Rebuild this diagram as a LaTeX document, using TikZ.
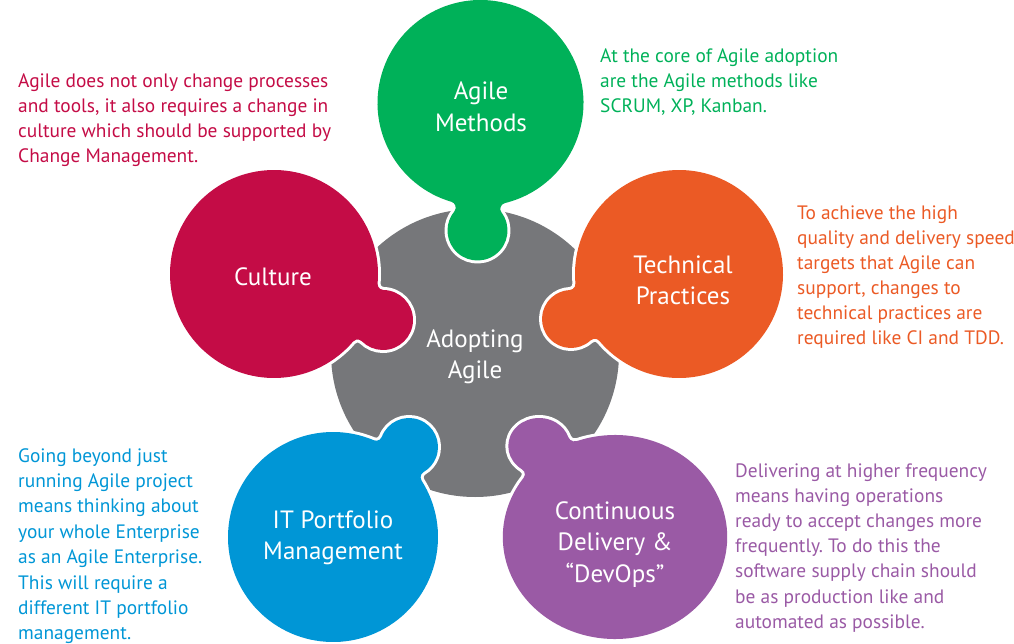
\documentclass[tikz,border=0pt]{standalone}
\usepackage{fontspec}
\setmainfont{PT Sans}
\frenchspacing

\definecolor{hubgray}{HTML}{76777A}
\definecolor{culturered}{HTML}{C40C46}
\definecolor{methodsgreen}{HTML}{00B159}
\definecolor{practorange}{HTML}{EB5A25}
\definecolor{portblue}{HTML}{0096D6}
\definecolor{devopspurple}{HTML}{9A5AA5}

% one line of a left-aligned block / of a centred block
\newcommand\txtrow[1]{\hbox{#1}}
\newcommand\ctrrow[1]{\hbox to 0pt{\hss#1\hss}}

% A puzzle piece around the local origin: disc of radius #1 with a knob of
% radius #4 centred at (#2,#3), joined by concave fillets of radius #5.
\newcommand\puzzlepiece[6]{%
  \pgfmathsetmacro\pzdx{(#2)/10}%
  \pgfmathsetmacro\pzdy{(#3)/10}%
  \pgfmathsetmacro\pzphi{atan2(\pzdy,\pzdx)}%
  \pgfmathsetmacro\pzdist{sqrt(\pzdx*\pzdx+\pzdy*\pzdy)}%
  \pgfmathsetmacro\pzbig{(#1+#5)/10}%
  \pgfmathsetmacro\pzsmall{(#4+#5)/10}%
  \pgfmathsetmacro\pzfx{(\pzbig*\pzbig-\pzsmall*\pzsmall+\pzdist*\pzdist)/(2*\pzdist)}%
  \pgfmathsetmacro\pzfy{sqrt(\pzbig*\pzbig-\pzfx*\pzfx)}%
  \pgfmathsetmacro\pzal{atan2(\pzfy,\pzfx)}%
  \pgfmathsetmacro\pzbe{atan2(\pzfy,\pzfx-\pzdist)}%
  \pgfmathsetmacro\pzangA{\pzphi+\pzal}%
  \pgfmathsetmacro\pzangB{\pzphi+360-\pzal}%
  \pgfmathsetmacro\pzangC{\pzphi-\pzal+180}%
  \pgfmathsetmacro\pzangD{\pzphi-\pzbe+180}%
  \pgfmathsetmacro\pzangE{\pzphi-\pzbe}%
  \pgfmathsetmacro\pzangF{\pzphi+\pzbe}%
  \pgfmathsetmacro\pzangG{\pzphi+\pzbe+180}%
  \pgfmathsetmacro\pzangH{\pzphi+\pzal+180}%
  \fill[piece,fill=#6] (\pzangA:#1)
    arc[start angle=\pzangA,end angle=\pzangB,radius=#1]
    arc[start angle=\pzangC,end angle=\pzangD,radius=#5]
    arc[start angle=\pzangE,end angle=\pzangF,radius=#4]
    arc[start angle=\pzangG,end angle=\pzangH,radius=#5] -- cycle;
}

\begin{document}
\begin{tikzpicture}[x=1pt,y=-1pt,
  piece/.style={preaction={draw=white,line width=6pt}},
  lbl/.style={text=white,inner sep=0,anchor=base,font=\fontsize{25}{31.5}\selectfont},
  note/.style={inner sep=0,anchor=base west,font=\fontsize{19.4}{25}\selectfont}]
\useasboundingbox (0,0) rectangle (1014,644);

% centre disc
\fill[hubgray] (475,353) circle[radius=144];

% the five pieces
\begin{scope}[shift={(480.5,103)}]
  \puzzlepiece{103}{-3}{127.5}{30}{6}{methodsgreen}
\end{scope}
\begin{scope}[shift={(274,274)}]
  \puzzlepiece{104}{109}{46}{30}{6}{culturered}
\end{scope}
\begin{scope}[shift={(679,274)}]
  \puzzlepiece{104}{-108}{45}{29}{6}{practorange}
\end{scope}
\begin{scope}[shift={(333,537)}]
  \puzzlepiece{105}{76}{-90}{29}{6}{portblue}
\end{scope}
\begin{scope}[shift={(615,537)},xscale=1.1]
  \puzzlepiece{102}{-69}{-91}{28}{6}{devopspurple}
\end{scope}

% labels inside the shapes
\node[lbl] (hub) at (475,347) {\vtop{\ctrrow{Adopting}\ctrrow{Agile}}};
\node[lbl] (methods) at (481,100) {\vtop{\ctrrow{Agile}\ctrrow{Methods}}};
\node[lbl] (culture) at (273,285) {\vtop{\ctrrow{Culture}}};
\node[lbl] (practices) at (683,273) {\vtop{\ctrrow{Technical}\ctrrow{Practices}}};
\node[lbl] (portfolio) at (333,528) {\vtop{\ctrrow{IT Portfolio}\ctrrow{Management}}};
\node[lbl] (devops) at (615,519) {\vtop{\ctrrow{Continuous}\ctrrow{Delivery \&}\ctrrow{``DevOps''}}};

% explanatory notes
\node[note,text=culturered] (culturenote) at (18,88) {\vtop{%
  \txtrow{Agile does not only change processes}
  \txtrow{and tools, it also requires a change in}
  \txtrow{culture which should be supported by}
  \txtrow{Change Management.}}};
\node[note,text=methodsgreen] (methodsnote) at (600,63) {\vtop{%
  \txtrow{At the core of Agile adoption}
  \txtrow{are the Agile methods like}
  \txtrow{SCRUM, XP, Kanban.}}};
\node[note,text=practorange] (practicesnote) at (797,220) {\vtop{%
  \txtrow{To achieve the high}
  \txtrow{quality and delivery speed}
  \txtrow{targets that Agile can}
  \txtrow{support, changes to}
  \txtrow{technical practices are}
  \txtrow{required like CI and TDD.}}};
\node[note,text=portblue] (portfolionote) at (18,462) {\vtop{\baselineskip=25.4pt
  \txtrow{Going beyond just}
  \txtrow{running Agile project}
  \txtrow{means thinking about}
  \txtrow{your whole Enterprise}
  \txtrow{as an Agile Enterprise.}
  \txtrow{This will require a}
  \txtrow{different IT portfolio}
  \txtrow{management.}}};
\node[note,text=devopspurple] (devopsnote) at (735,477) {\vtop{\baselineskip=25.2pt
  \txtrow{Delivering at higher frequency}
  \txtrow{means having operations}
  \txtrow{ready to accept changes more}
  \txtrow{frequently. To do this the}
  \txtrow{software supply chain should}
  \txtrow{be as production like and}
  \txtrow{automated as possible.}}};
\end{tikzpicture}
\end{document}
